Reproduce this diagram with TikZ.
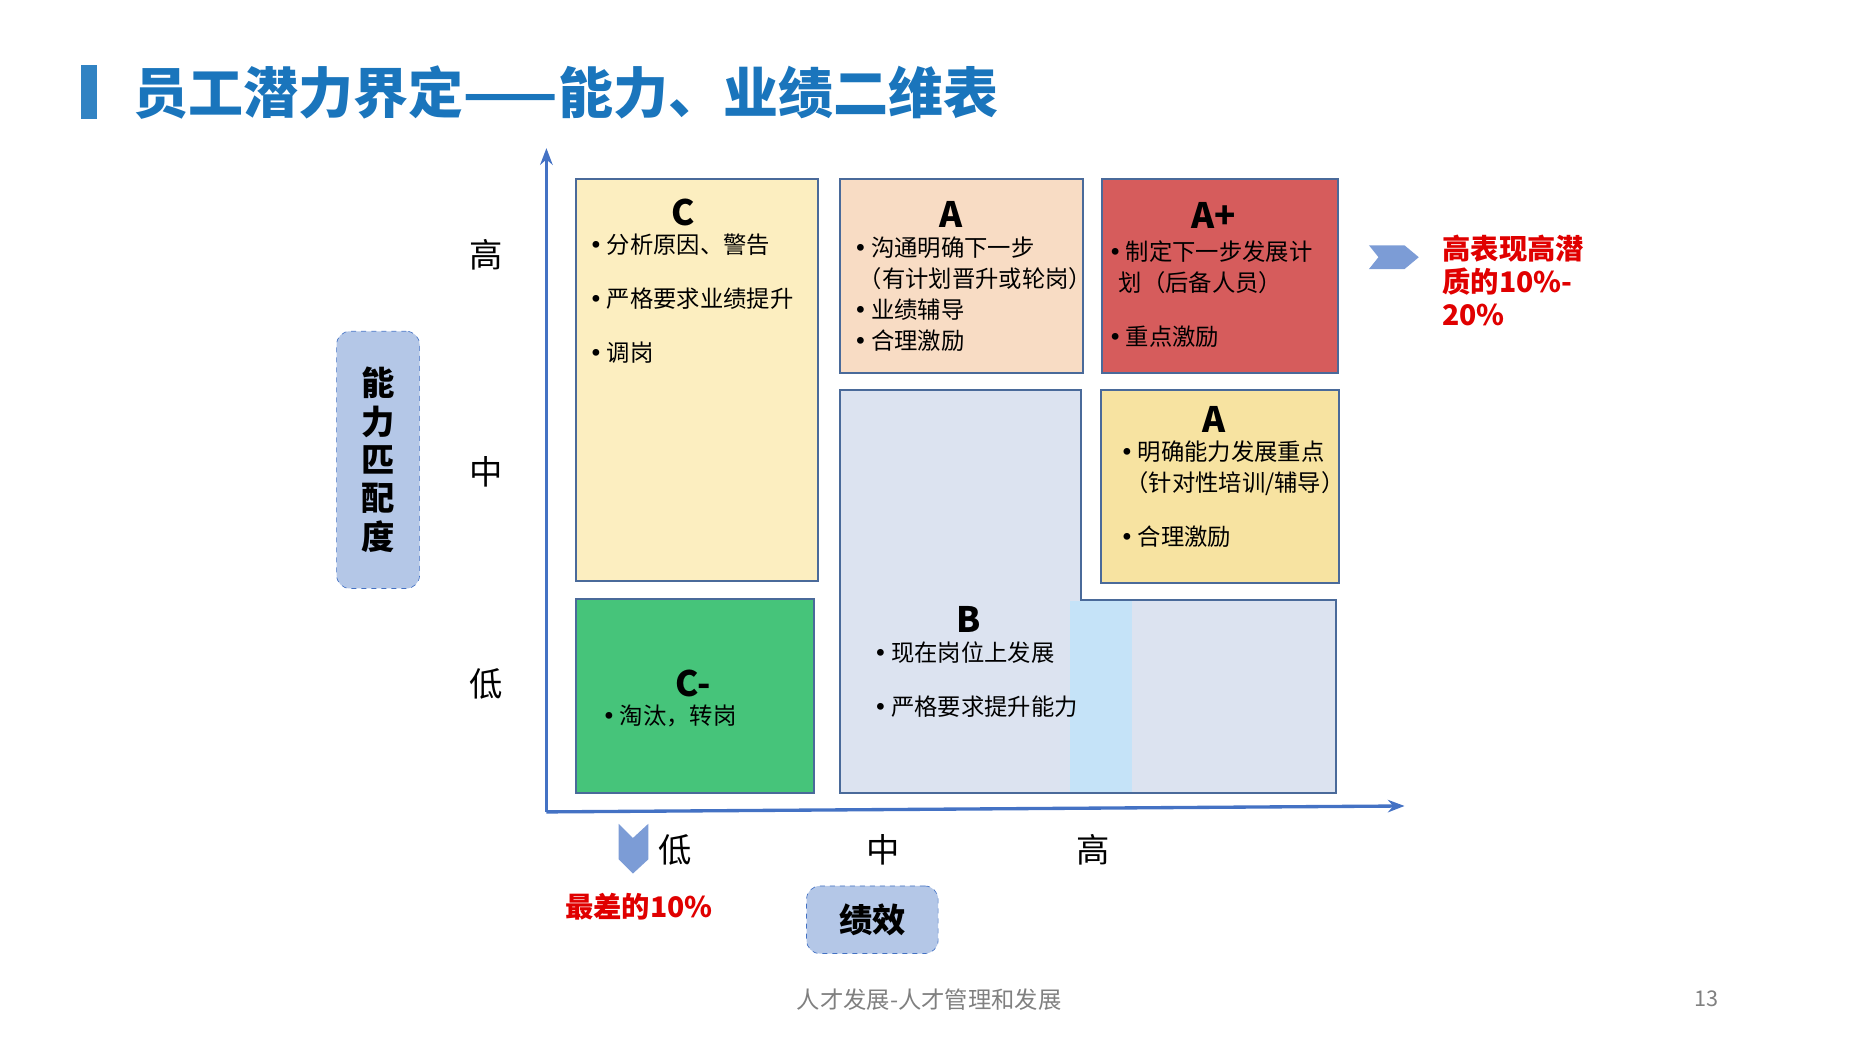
\documentclass[tikz,border=0pt]{standalone}
\usepackage{fontspec}
\setmainfont{Noto Sans CJK SC}
\newfontfamily\bulfont{DejaVu Sans}
\newcommand{\bu}{{\bulfont •}\,}
\usetikzlibrary{arrows.meta,positioning}
\definecolor{titleblue}{HTML}{1A75BC}
\definecolor{axisblue}{HTML}{4472C4}
\definecolor{edge}{HTML}{4A6A9A}
\definecolor{hired}{HTML}{E00000}
\definecolor{cyellow}{RGB}{252,238,192}
\definecolor{cpeach}{RGB}{248,220,196}
\definecolor{cred}{RGB}{214,92,92}
\definecolor{cgold}{RGB}{247,227,161}
\definecolor{cgreen}{RGB}{70,196,122}
\definecolor{cblue}{RGB}{220,227,240}
\definecolor{cband}{RGB}{197,227,248}
\tikzset{
  cell/.style={draw=edge,line width=1.2pt},
  head/.style={font=\fontsize{21}{24}\selectfont\bfseries},
  items/.style={anchor=north west,align=left,inner sep=2pt,font=\fontsize{14}{18.5}\selectfont},
  tick/.style={font=\fontsize{20}{22}\selectfont},
  tag/.style={draw=axisblue,dashed,fill=axisblue!40,rounded corners=8pt,font=\fontsize{20}{24}\selectfont\bfseries}
}
\begin{document}
\begin{tikzpicture}[x=0.025cm,y=-0.025cm]
\useasboundingbox (0,0) rectangle (1560,876);
% title
\fill[titleblue!90] (68,55) rectangle (82,100);
\node[anchor=west,text=titleblue,font=\fontsize{33}{35}\selectfont\bfseries] (title) at (108,78) {员工潜力界定——能力、业绩二维表};
% cells
\draw[cell,fill=cyellow] (486,151) rectangle (690,490);
\draw[cell,fill=cpeach] (709,151) rectangle (914,315);
\draw[cell,fill=cred] (930,151) rectangle (1129,315);
\draw[cell,fill=cgold] (929,329) rectangle (1130,492);
\draw[cell,fill=cgreen] (486,505) rectangle (687,669);
\draw[cell,fill=cblue] (709,329) -- (912,329) -- (912,506) -- (1127,506) -- (1127,669) -- (709,669) -- cycle;
\fill[cband] (903,507) rectangle (955,668);
% cell texts
\node[head] (tc) at (576,179) {C};
\node[items] (lc) at (494,194) {\bu 分析原因、警告\\[14pt] \bu 严格要求业绩提升\\[14pt] \bu 调岗};
\node[head] (ta) at (802,181) {A};
\node[items] (la) at (717,197) {\bu 沟通明确下一步\\ \ （有计划晋升或轮岗）\\ \bu 业绩辅导\\ \bu 合理激励};
\node[head] (tap) at (1024,182) {A+};
\node[items] (lap) at (932,200) {\bu 制定下一步发展计\\ \ \ 划（后备人员）\\[14pt] \bu 重点激励};
\node[head] (ta2) at (1024,354) {A};
\node[items] (la2) at (942,369) {\bu 明确能力发展重点\\ \ （针对性培训/辅导）\\[14pt] \bu 合理激励};
\node[head] (tb) at (817,523) {B};
\node[items] (lb) at (734,538) {\bu 现在岗位上发展\\[14pt] \bu 严格要求提升能力};
\node[head] (tcm) at (585,577) {C-};
\node[items] (lcm) at (505,592) {\bu 淘汰，转岗};
% axes
\coordinate (o) at (461,685);
\coordinate (ytop) at (461,125);
\coordinate (xend) at (1185,680);
\draw[axisblue,line width=2pt,-{Stealth[length=10pt]}] (o) -- (ytop);
\draw[axisblue,line width=2pt,-{Stealth[length=10pt]}] (o) -- (xend);
\foreach \y/\l in {215/高,398/中,577/低}{\node[tick] at (410,\y) {\l};}
\foreach \x/\l in {570/低,745/中,922/高}{\node[tick] at (\x,717) {\l};}
% axis tags
\node[tag,minimum width=70*0.025cm,minimum height=217*0.025cm,align=center,font=\fontsize{20}{23}\selectfont\bfseries] (ability) at (319,388) {能\\力\\匹\\配\\度};
\node[tag,minimum width=111*0.025cm,minimum height=57*0.025cm] (perf) at (736,776) {绩效};
% markers
\fill[axisblue!70] (1155,207) -- (1185,207) -- (1197,217) -- (1185,227) -- (1155,227) -- (1163,217) -- cycle;
\node[anchor=north west,align=left,text=hired,font=\fontsize{17}{20}\selectfont\bfseries] (top) at (1212,193) {高表现高潜\\质的10\%-\\20\%};
\fill[axisblue!70] (522,695) -- (534,707) -- (547,695) -- (547,725) -- (534,737) -- (522,725) -- cycle;
\node[text=hired,font=\fontsize{17}{20}\selectfont\bfseries] (low) at (539,765) {最差的10\%};
% footer
\node[text=gray,font=\fontsize{14}{16}\selectfont] (foot) at (784,843) {人才发展-人才管理和发展};
\node[text=gray,font=\fontsize{13}{16}\selectfont] (page) at (1440,843) {13};
\end{tikzpicture}
\end{document}
